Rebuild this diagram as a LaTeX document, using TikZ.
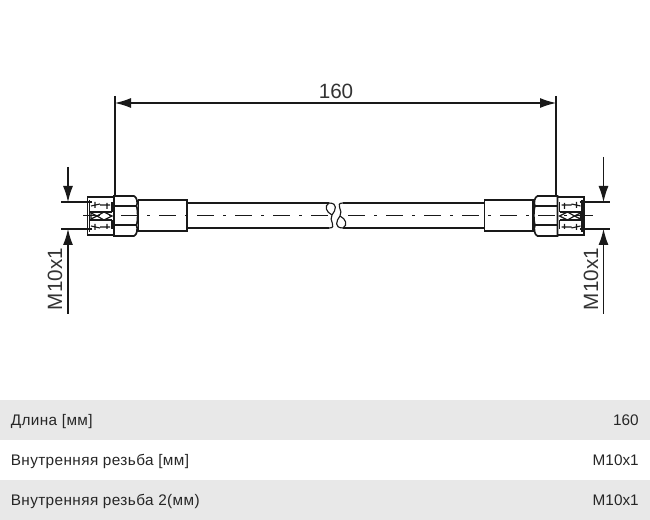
\documentclass[tikz,border=0pt]{standalone}
\usepackage{fontspec}
\setmainfont{Liberation Sans}
\usetikzlibrary{arrows.meta}
\definecolor{bandgrey}{HTML}{E8E8E8}
\definecolor{labelgrey}{HTML}{333333}
\tikzset{
  outline/.style={line width=1.25pt,black!90},
  fine/.style={line width=0.85pt,black!90},
  dimline/.style={line width=0.85pt,black!90},
  dimarrow/.style={dimline,-{Latex[length=12pt,width=7.5pt]}},
  centreline/.style={line width=0.9pt,black!90,dash pattern=on 12.75pt off 6.75pt on 2.25pt off 6.75pt},
  drawinglabel/.style={font=\fontsize{15.5}{17}\selectfont,text=labelgrey,inner sep=0pt},
  rowlabel/.style={font=\fontsize{11}{13}\selectfont,text=black!85,inner sep=0pt},
  rowname/.style={rowlabel,anchor=base west,font=\fontsize{11.5}{13}\selectfont\addfontfeatures{LetterSpace=2.6}},
  rowvalue/.style={rowlabel,anchor=base east,font=\fontsize{11.5}{13}\selectfont},
}
% one half of the hose, written for the left end
\newcommand{\hoseend}{%
  \draw[outline] (87.5,197) rectangle (114,235);
  \draw[fine] (89.5,200) -- (89.5,232);
  \draw[fine] (90,212) -- (112,212) (90,220) -- (112,220);
  \draw[fine] (112,202) -- (112,212) (112,220) -- (112,229);
  \draw[fine] (91,206) -- (100,204) (95,202) -- (95,208) (100,205) -- (110,205) (107,203) -- (107,209);
  \draw[fine] (91,226) -- (100,228) (95,224) -- (95,230) (100,227) -- (110,227) (107,224) -- (107,229);
  \draw[fine] (91,213) -- (97,216) -- (91,219) -- cycle;
  \draw[fine] (97,216) -- (104,212) (97,216) -- (104,220) (104,212) -- (112,216) -- (104,220);
  \draw[outline] (114,196) -- (134,196) .. controls (137,197) and (138,203) .. (136.5,206)
    .. controls (138,210) and (138,221) .. (136.5,225)
    .. controls (138,229) and (137,235) .. (134,236) -- (114,236) -- cycle;
  \draw[fine] (114,206) -- (136.5,206) (114,225) -- (136.5,225);
  \draw[outline] (138.5,200) rectangle (187,231);
}
\begin{document}
\begin{tikzpicture}[x=0.75pt,y=-0.75pt]
  \useasboundingbox (0,0) rectangle (650,520);
  % table
  \fill[bandgrey] (0,400) rectangle (650,440);
  \fill[bandgrey] (0,480) rectangle (650,520);
  \node[rowname] (lengthname) at (10.5,425) {Длина [мм]};
  \node[rowvalue] (lengthvalue) at (639,425) {160};
  \node[rowname] (threadname) at (10.5,465) {Внутренняя резьба [мм]};
  \node[rowvalue] (threadvalue) at (639,465) {M10x1};
  \node[rowname] (threadtwoname) at (10.5,505) {Внутренняя резьба 2(мм)};
  \node[rowvalue] (threadtwovalue) at (639,505) {M10x1};
  % hose
  \hoseend
  \begin{scope}[shift={(671.5,0)},xscale=-1]
    \hoseend
  \end{scope}
  \draw[outline] (187,203) -- (329,203) (187,228) -- (329,228);
  \draw[outline] (343,203) -- (484.5,203) (343,228) -- (484.5,228);
  \draw[fine] (329,203) .. controls (338,203) and (336,210) .. (332,215)
    .. controls (328,220) and (338,228) .. (329,228);
  \draw[fine] (329,203) .. controls (324,206) and (326,212) .. (332,215);
  \draw[fine] (343,228) .. controls (334,228) and (336,221) .. (340,216)
    .. controls (344,211) and (334,203) .. (343,203);
  \draw[fine] (343,228) .. controls (348,225) and (346,219) .. (340,216);
  \draw[centreline] (83,215.5) -- (328,215.5);
  \draw[centreline] (348,215.5) -- (593,215.5);
  % length
  \coordinate (lefttop) at (115,96);
  \coordinate (leftfoot) at (115,196);
  \coordinate (righttop) at (556,96);
  \coordinate (rightfoot) at (556,196);
  \coordinate (leftdim) at (115,103);
  \coordinate (rightdim) at (556,103);
  \draw[dimline] (lefttop) -- (leftfoot);
  \draw[dimline] (righttop) -- (rightfoot);
  \draw[dimline,{Latex[length=12pt,width=7.5pt]}-{Latex[length=12pt,width=7.5pt]}] (leftdim) -- (rightdim);
  \node[drawinglabel] (lengthlabel) at (336,91) {160};
  % thread left
  \coordinate (ltopstart) at (68,167);
  \coordinate (ltopend) at (68,202);
  \coordinate (lbotstart) at (68,314);
  \coordinate (lbotend) at (68,229);
  \draw[dimarrow] (ltopstart) -- (ltopend);
  \draw[dimarrow] (lbotstart) -- (lbotend);
  \draw[dimline] (61,202) -- (92,202) (61,229) -- (92,229);
  \node[drawinglabel,rotate=90] (leftthread) at (55,279) {M10x1};
  % thread right
  \coordinate (rtopstart) at (603.5,157);
  \coordinate (rtopend) at (603.5,202);
  \coordinate (rbotstart) at (603.5,314);
  \coordinate (rbotend) at (603.5,229);
  \draw[dimarrow] (rtopstart) -- (rtopend);
  \draw[dimarrow] (rbotstart) -- (rbotend);
  \draw[dimline] (579.5,202) -- (610,202) (579.5,229) -- (610,229);
  \node[drawinglabel,rotate=90] (rightthread) at (591,279) {M10x1};
\end{tikzpicture}
\end{document}
